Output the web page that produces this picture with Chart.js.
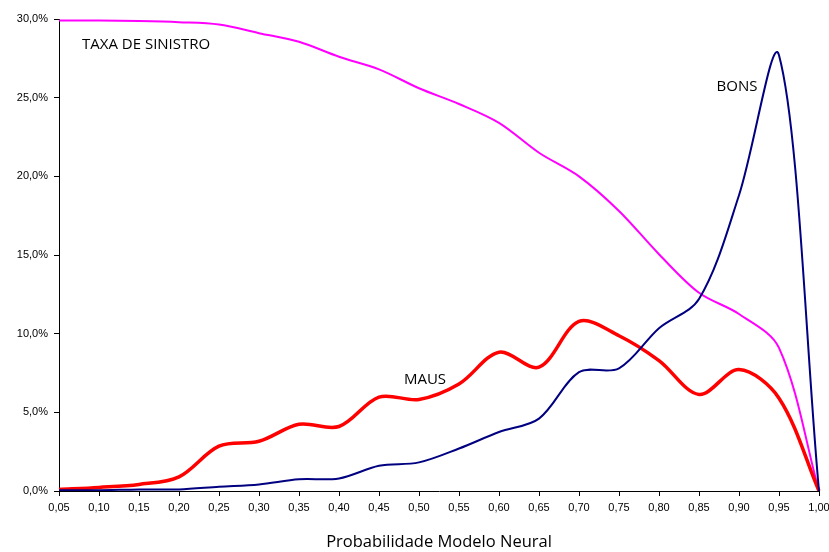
<!DOCTYPE html>
<html>
<head>
<meta charset="utf-8">
<script src="https://cdn.jsdelivr.net/npm/chart.js@4"></script>
<style>
    html, body { margin: 0; padding: 0; background: #fff; }
    #wrap { width: 829px; height: 552px; position: relative; }
</style>
</head>
<body>
<div id="wrap"><canvas id="sinistroChart"></canvas></div>
<script>
const probLabels = ['0,05', '0,10', '0,15', '0,20', '0,25', '0,30', '0,35', '0,40', '0,45', '0,50',
                    '0,55', '0,60', '0,65', '0,70', '0,75', '0,80', '0,85', '0,90', '0,95', '1,00'];

// valores em %
const taxaSinistro = [29.9, 29.9, 29.87, 29.8, 29.65, 29.1, 28.55, 27.6, 26.8, 25.6,
                      24.6, 23.4, 21.5, 20.0, 17.8, 15.05, 12.6, 11.25, 9.1, 0];
const maus = [0.1, 0.23, 0.42, 0.9, 2.85, 3.16, 4.24, 4.1, 5.97, 5.82,
              6.8, 8.82, 7.87, 10.78, 9.87, 8.29, 6.14, 7.72, 5.9, 0];
const bons = [0.05, 0.05, 0.1, 0.1, 0.27, 0.42, 0.74, 0.8, 1.6, 1.82,
              2.7, 3.75, 4.6, 7.55, 7.8, 10.35, 12.2, 18.8, 27.7, 0];

const curveLabels = [
    { text: 'TAXA DE SINISTRO', at: 0.575, value: 28.35, align: 'left' },
    { text: 'MAUS', at: 9.15, value: 7.05, align: 'center' },
    { text: 'BONS', at: 16.95, value: 25.7, align: 'center' }
];

const tickFont = { family: '"Liberation Sans", Arial, sans-serif', size: 11 };

// escreve os nomes das curvas
const curveLabelPlugin = {
    id: 'curveLabels',
    afterDatasetsDraw(chart) {
        const { ctx, scales: { x, y } } = chart;
        ctx.save();
        ctx.font = '15px "Open Sans", sans-serif';
        ctx.fillStyle = '#000';
        ctx.textBaseline = 'middle';
        curveLabels.forEach(l => {
            ctx.textAlign = l.align;
            ctx.fillText(l.text, x.getPixelForValue(l.at), y.getPixelForValue(l.value));
        });
        ctx.restore();
    }
};

const ctx = document.getElementById('sinistroChart').getContext('2d');
new Chart(ctx, {
    type: 'line',
    data: {
        labels: probLabels,
        datasets: [
            {
                label: 'BONS',
                data: bons,
                borderColor: '#000080',
                borderWidth: 2,
                tension: 0.33,
                pointRadius: 0,
                fill: false
            },
            {
                label: 'MAUS',
                data: maus,
                borderColor: '#FF0000',
                borderWidth: 3.5,
                tension: 0.33,
                pointRadius: 0,
                fill: false
            },
            {
                label: 'TAXA DE SINISTRO',
                data: taxaSinistro,
                borderColor: '#FF00FF',
                borderWidth: 2,
                tension: 0.33,
                pointRadius: 0,
                fill: false
            }
        ]
    },
    options: {
        responsive: true,
        maintainAspectRatio: false,
        animation: false,
        layout: {
            padding: { top: 19, right: 10, left: 0, bottom: 0 }
        },
        scales: {
            x: {
                offset: false,
                grid: {
                    drawOnChartArea: false,
                    drawTicks: true,
                    tickLength: 5,
                    color: '#000'
                },
                border: { color: '#000', width: 1 },
                ticks: {
                    color: '#000',
                    font: tickFont,
                    padding: 5,
                    maxRotation: 0,
                    autoSkip: false
                },
                title: {
                    display: true,
                    text: 'Probabilidade Modelo Neural',
                    color: '#000',
                    font: { family: '"Open Sans", sans-serif', size: 16.5 },
                    padding: { top: 24, bottom: 0 }
                },
                afterFit(scale) {
                    scale.height = 61;
                    scale.paddingRight = 0;
                }
            },
            y: {
                min: 0,
                max: 30,
                grid: {
                    drawOnChartArea: false,
                    drawTicks: true,
                    tickLength: 5,
                    color: '#000'
                },
                border: { color: '#000', width: 1 },
                ticks: {
                    stepSize: 5,
                    color: '#000',
                    font: tickFont,
                    padding: 6,
                    callback: v => v.toFixed(1).replace('.', ',') + '%'
                },
                afterFit(scale) {
                    scale.width = 59;
                }
            }
        },
        plugins: {
            legend: { display: false },
            tooltip: { enabled: false }
        }
    },
    plugins: [curveLabelPlugin]
});
</script>
</body>
</html>
